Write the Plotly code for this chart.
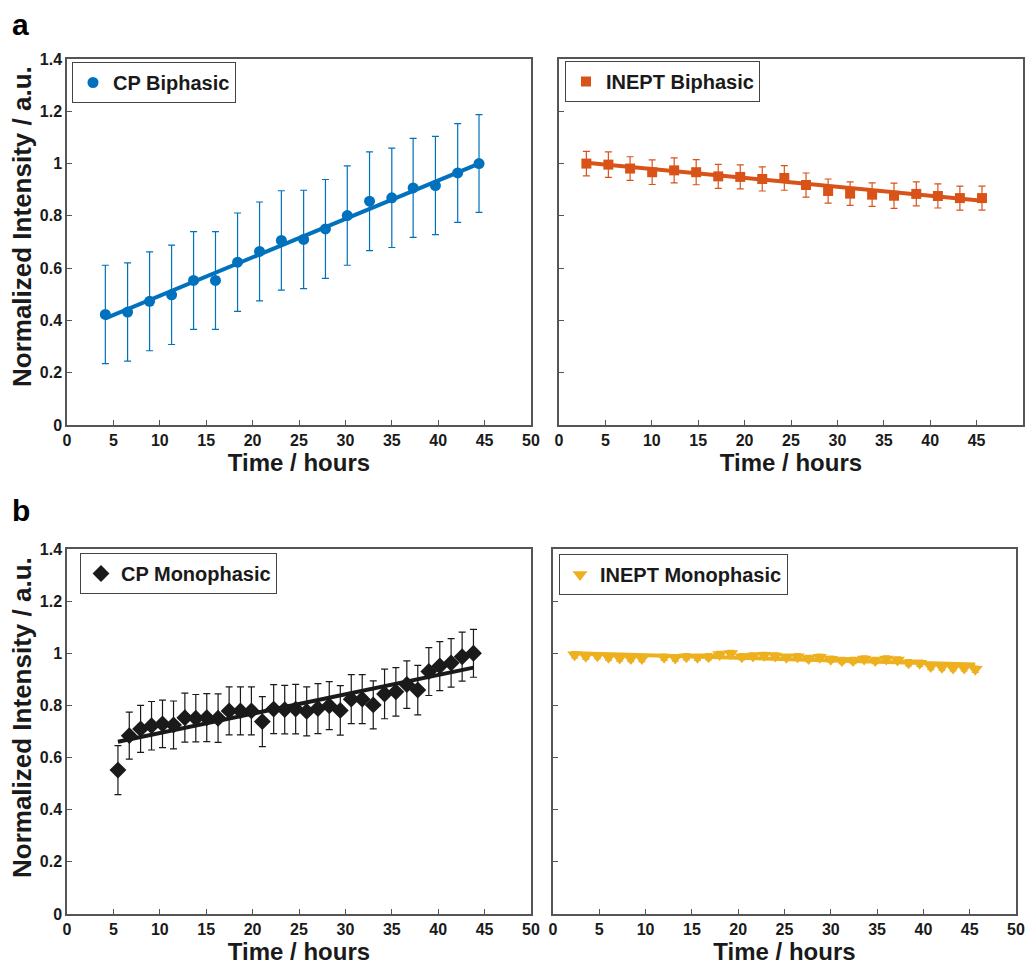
import plotly.graph_objects as go

# ---------------- data ----------------
cp_bi_t = [4.13, 6.53, 8.9, 11.27, 13.64, 16.0, 18.38, 20.75, 23.1, 25.5, 27.85, 30.2, 32.6, 35.0, 37.3, 39.7, 42.1, 44.4]
cp_bi_y = [0.423, 0.432, 0.473, 0.498, 0.553, 0.553, 0.623, 0.664, 0.706, 0.710, 0.750, 0.801, 0.856, 0.869, 0.907, 0.916, 0.964, 1.000]
cp_bi_err = [0.188, 0.188, 0.189, 0.19, 0.187, 0.187, 0.188, 0.189, 0.19, 0.188, 0.189, 0.19, 0.189, 0.19, 0.189, 0.188, 0.189, 0.187]
cp_bi_fit_t = [4.13, 44.4]
cp_bi_fit_y = [0.408, 1.0]

inept_bi_t = [2.95, 5.32, 7.66, 10.04, 12.41, 14.78, 17.16, 19.53, 21.9, 24.28, 26.62, 29.0, 31.37, 33.74, 36.1, 38.5, 40.83, 43.2, 45.58]
inept_bi_y = [1.0, 0.996, 0.981, 0.967, 0.974, 0.967, 0.951, 0.949, 0.941, 0.945, 0.918, 0.895, 0.885, 0.881, 0.877, 0.884, 0.876, 0.868, 0.868]
inept_bi_err = [0.047, 0.049, 0.045, 0.047, 0.048, 0.048, 0.046, 0.046, 0.046, 0.047, 0.046, 0.046, 0.045, 0.045, 0.048, 0.046, 0.046, 0.046, 0.046]
inept_bi_fit_t = [2.95, 45.58]
inept_bi_fit_y = [1.003, 0.858]

cp_mono_t = [5.49, 6.71, 7.93, 9.11, 10.29, 11.48, 12.70, 13.88, 15.06, 16.28, 17.47, 18.69, 19.87, 21.05, 22.27, 23.46, 24.64,
             25.83, 27.04, 28.26, 29.45, 30.63, 31.81, 33.0, 34.22, 35.44, 36.62, 37.8, 38.99, 40.17, 41.39, 42.58, 43.8]
cp_mono_y = [0.552, 0.684, 0.710, 0.722, 0.729, 0.725, 0.753, 0.751, 0.753, 0.751, 0.779, 0.779, 0.779, 0.738, 0.786, 0.784, 0.786,
             0.777, 0.788, 0.799, 0.781, 0.824, 0.824, 0.802, 0.844, 0.852, 0.880, 0.859, 0.930, 0.951, 0.963, 0.987, 1.0]
cp_mono_err = [0.094, 0.090, 0.090, 0.093, 0.091, 0.092, 0.094, 0.091, 0.092, 0.093, 0.092, 0.092, 0.092, 0.096, 0.094, 0.093, 0.095,
               0.094, 0.096, 0.092, 0.095, 0.094, 0.094, 0.092, 0.095, 0.093, 0.091, 0.095, 0.092, 0.094, 0.093, 0.094, 0.092]
cp_mono_fit_t = [5.49, 43.8]
cp_mono_fit_y = [0.661, 0.945]

inept_mono_t = [2.34, 3.54, 4.8, 6.0, 7.2, 8.4, 9.6, 12.0, 13.2, 14.4, 15.6, 16.8, 18.0, 19.2, 20.4, 21.6, 22.8, 24.0,
                25.2, 26.4, 27.6, 28.8, 30.0, 31.2, 32.4, 33.6, 34.8, 36.0, 37.2, 38.4, 39.6, 40.8, 42.0, 43.2, 44.4, 45.6]
inept_mono_y = [0.994, 0.989, 0.991, 0.985, 0.982, 0.98, 0.98, 0.985, 0.982, 0.987, 0.985, 0.987, 0.995, 0.999, 0.987, 0.99, 0.992, 0.99,
                0.985, 0.987, 0.98, 0.985, 0.977, 0.972, 0.972, 0.978, 0.972, 0.978, 0.974, 0.964, 0.962, 0.949, 0.946, 0.944, 0.944, 0.939]
inept_mono_err = [0.012] * 36
inept_mono_fit_t = [2.34, 45.6]
inept_mono_fit_y = [1.0, 0.957]

x_ticks = [0, 5, 10, 15, 20, 25, 30, 35, 40, 45, 50]
y_ticks = [0, 0.2, 0.4, 0.6, 0.8, 1.0, 1.2, 1.4]

# ---------------- styles ----------------
BLUE = "#0072BD"
ORANGE = "#D95319"
YELLOW = "#EDB120"
BLACK = "#1a1a1a"
FONT = "Liberation Sans, Arial, sans-serif"
W, H = 1031, 965

fig = go.Figure()


def add_panel(idx, t, y, err, fit_t, fit_y, color, symbol, msize, name, legend_name):
    xa = "x" if idx == 1 else f"x{idx}"
    ya = "y" if idx == 1 else f"y{idx}"
    fig.add_trace(go.Scatter(
        x=fit_t, y=fit_y, mode="lines", line=dict(color=color, width=4),
        xaxis=xa, yaxis=ya, showlegend=False, hoverinfo="skip"))
    fig.add_trace(go.Scatter(
        x=t, y=y, mode="markers", name=name,
        marker=dict(color=color, symbol=symbol, size=msize, line=dict(width=0)),
        error_y=dict(type="data", array=err, visible=True, color=color, thickness=1.2, width=3.5),
        xaxis=xa, yaxis=ya, legend=legend_name))


add_panel(1, cp_bi_t, cp_bi_y, cp_bi_err, cp_bi_fit_t, cp_bi_fit_y, BLUE, "circle", 11, "CP Biphasic", "legend")
add_panel(2, inept_bi_t, inept_bi_y, inept_bi_err, inept_bi_fit_t, inept_bi_fit_y, ORANGE, "square", 10, "INEPT Biphasic", "legend2")
add_panel(3, cp_mono_t, cp_mono_y, cp_mono_err, cp_mono_fit_t, cp_mono_fit_y, BLACK, "diamond", 13, "CP Monophasic", "legend3")
add_panel(4, inept_mono_t, inept_mono_y, inept_mono_err, inept_mono_fit_t, inept_mono_fit_y, YELLOW, "triangle-down", 13, "INEPT Monophasic", "legend4")

AX_COLOR = "#555555"
tickfont = dict(family=FONT, size=16, color=BLACK, weight="bold")
xtitlefont = dict(family=FONT, size=24, color=BLACK, weight="bold")
ytitlefont = dict(family=FONT, size=26, color=BLACK, weight="bold")


def xaxis(domain, anchor):
    return dict(domain=domain, anchor=anchor, range=[0, 50], tickvals=x_ticks,
                showline=True, mirror=True, linecolor=AX_COLOR, linewidth=1.5,
                ticks="inside", ticklen=5, tickwidth=1, tickcolor=AX_COLOR,
                showgrid=False, zeroline=False, tickfont=tickfont, automargin=False,
                title=dict(text="Time / hours", font=xtitlefont, standoff=4))


def yaxis(domain, anchor, labels):
    return dict(domain=domain, anchor=anchor, range=[0, 1.4], tickvals=y_ticks,
                showline=True, mirror=True, linecolor=AX_COLOR, linewidth=1.5,
                ticks="inside", ticklen=5, tickwidth=1, tickcolor=AX_COLOR,
                showgrid=False, zeroline=False, tickfont=tickfont, showticklabels=labels,
                automargin=False)


def px_x(p):
    return p / W


def px_y(p):
    return 1 - p / H


top_dom = [px_y(425), px_y(59)]
bot_dom = [px_y(914), px_y(549)]

legend_common = dict(bgcolor="white", bordercolor="#444444", borderwidth=1,
                     font=dict(family=FONT, size=20, color=BLACK, weight="bold"),
                     xanchor="left", yanchor="top", itemwidth=30, tracegroupgap=0)

YTITLE = "Normalized Intensity / a.u."

fig.update_layout(
    width=W, height=H,
    margin=dict(l=0, r=0, t=0, b=0, autoexpand=False),
    paper_bgcolor="white", plot_bgcolor="white",
    font=dict(family=FONT, color=BLACK),
    xaxis=xaxis([px_x(67), px_x(531)], "y"),
    yaxis=yaxis(top_dom, "x", True),
    xaxis2=xaxis([px_x(559), px_x(1023)], "y2"),
    yaxis2=yaxis(top_dom, "x2", False),
    xaxis3=xaxis([px_x(67), px_x(531)], "y3"),
    yaxis3=yaxis(bot_dom, "x3", True),
    xaxis4=xaxis([px_x(553), px_x(1016)], "y4"),
    yaxis4=yaxis(bot_dom, "x4", False),
    legend=dict(x=px_x(72), y=px_y(62), **legend_common),
    legend2=dict(x=px_x(565), y=px_y(61), **legend_common),
    legend3=dict(x=px_x(80), y=px_y(553), **legend_common),
    legend4=dict(x=px_x(559), y=px_y(554), **legend_common),
    showlegend=True,
    annotations=[
        dict(text="a", x=px_x(10), y=px_y(6), xref="paper", yref="paper", xanchor="left", yanchor="top",
             showarrow=False, font=dict(family=FONT, size=30, color="black", weight="bold")),
        dict(text="b", x=px_x(10), y=px_y(492), xref="paper", yref="paper", xanchor="left", yanchor="top",
             showarrow=False, font=dict(family=FONT, size=30, color="black", weight="bold")),
        dict(text=YTITLE, x=px_x(22), y=px_y(227), xref="paper", yref="paper", xanchor="center", yanchor="middle",
             textangle=-90, showarrow=False, font=ytitlefont),
        dict(text=YTITLE, x=px_x(22), y=px_y(718), xref="paper", yref="paper", xanchor="center", yanchor="middle",
             textangle=-90, showarrow=False, font=ytitlefont),
    ],
)

fig.write_html("out.html")
